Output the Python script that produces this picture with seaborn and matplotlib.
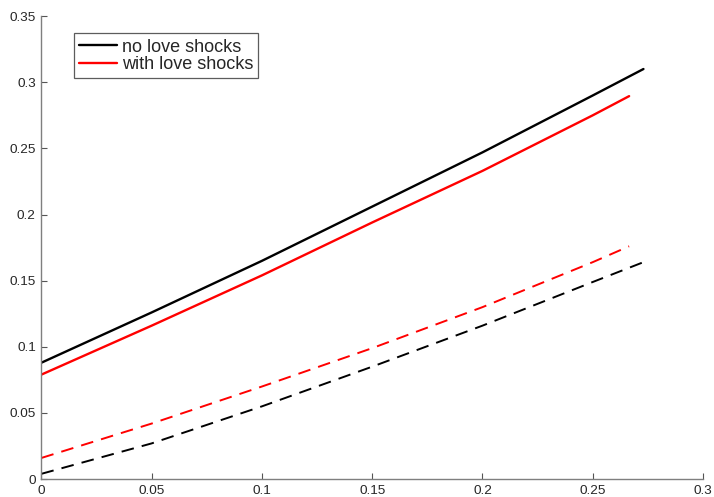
import numpy as np
import pandas as pd
import matplotlib
matplotlib.use('Agg')
import matplotlib.pyplot as plt
import matplotlib.ticker as mticker
import seaborn as sns

# values
x_no = [0, 0.05, 0.1, 0.15, 0.2, 0.25, 0.273]
x_love = [0, 0.05, 0.1, 0.15, 0.2, 0.25, 0.2665]
solid_no = [0.088, 0.126, 0.165, 0.206, 0.247, 0.290, 0.310]
solid_love = [0.079, 0.116, 0.154, 0.194, 0.233, 0.275, 0.2895]
dash_no = [0.004, 0.027, 0.055, 0.085, 0.116, 0.149, 0.164]
dash_love = [0.016, 0.042, 0.070, 0.099, 0.130, 0.164, 0.176]

x_ticks = [0, 0.05, 0.1, 0.15, 0.2, 0.25, 0.3]
y_ticks = [0, 0.05, 0.1, 0.15, 0.2, 0.25, 0.3, 0.35]

sns.set_style('white')
plt.rcParams['font.family'] = ['Liberation Sans', 'DejaVu Sans']

fig = plt.figure(figsize=(7.14, 4.97), dpi=100)
ax = fig.add_axes([0.058, 0.036, 0.9266, 0.9316])

lw = 1.7
sns.lineplot(x=x_no, y=solid_no, color='black', lw=lw, label='no love shocks', ax=ax)
sns.lineplot(x=x_love, y=solid_love, color='#ff0000', lw=lw, label='with love shocks', ax=ax)
sns.lineplot(x=x_no, y=dash_no, color='black', lw=1.4, ax=ax,
             label='_nolegend_').lines[-1].set_dashes((6.5, 4.2))
sns.lineplot(x=x_love, y=dash_love, color='#ff0000', lw=1.4, ax=ax,
             label='_nolegend_').lines[-1].set_dashes((6.5, 4.2))

ax.set_xlim(0, 0.3)
ax.set_ylim(0, 0.35)
ax.set_xticks(x_ticks)
ax.set_yticks(y_ticks)
fmt = mticker.FuncFormatter(lambda v, p: '%g' % round(v, 3))
ax.xaxis.set_major_formatter(fmt)
ax.yaxis.set_major_formatter(fmt)

for side in ['top', 'right']:
    ax.spines[side].set_visible(False)
for side in ['left', 'bottom']:
    ax.spines[side].set_color('#7f7f7f')
    ax.spines[side].set_linewidth(1.0)
ax.tick_params(bottom=True, left=True, direction='in', length=4, width=0.8,
               color='#555555', labelsize=9.7, labelcolor='#262626', pad=4)
ax.set_xlabel('')
ax.set_ylabel('')

leg = ax.legend(loc='upper left', bbox_to_anchor=(0.049, 0.963), fontsize=13,
                frameon=True, fancybox=False, handlelength=2.1, handletextpad=0.25,
                borderpad=0.3, labelspacing=0.02, borderaxespad=0)
leg.get_frame().set_edgecolor('#333333')
leg.get_frame().set_linewidth(0.9)

fig.savefig('out.png', dpi=100)
